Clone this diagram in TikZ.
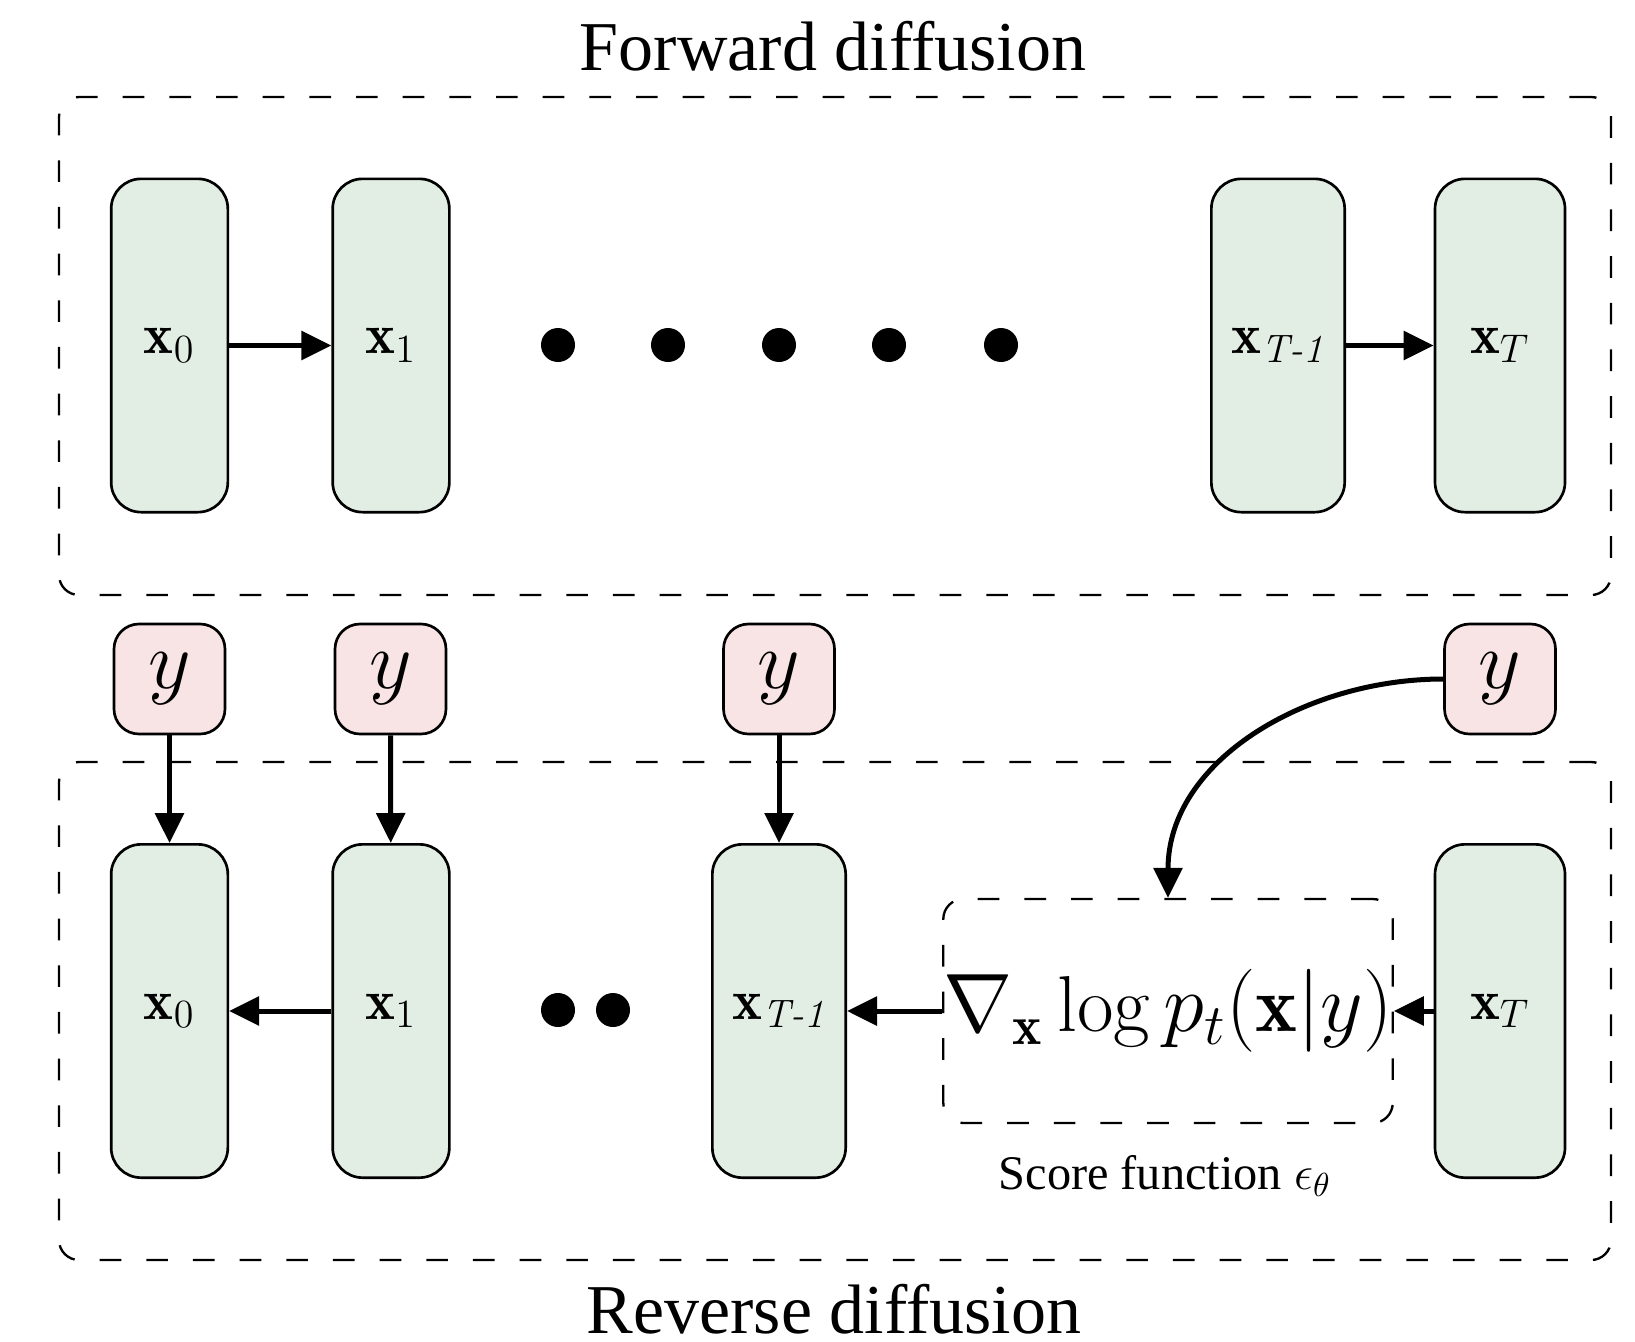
\documentclass[tikz,border=0pt]{standalone}
\usepackage{amsmath}
\usepackage{fontspec}
\newfontfamily\titlefont{Liberation Serif}
\usetikzlibrary{arrows.meta}
\definecolor{statefill}{RGB}{226,238,228}
\definecolor{condfill}{RGB}{248,228,228}

\begin{document}
\begin{tikzpicture}[
    x=0.3pt, y=-0.3pt,
    every node/.style={align=center, inner sep=0pt},
    state box/.style={draw, line width=0.8pt, fill=statefill, rounded corners=9pt,
        minimum width=35pt, minimum height=100pt, font=\fontsize{17}{20}\selectfont},
    wide box/.style={state box, minimum width=40pt},
    cond box/.style={draw, line width=0.8pt, fill=condfill, rounded corners=7.5pt,
        minimum width=33.3pt, minimum height=33pt, font=\fontsize{24}{28}\selectfont},
    group box/.style={draw, line width=0.7pt, dash pattern=on 6.5pt off 7.5pt,
        rounded corners=6pt},
    big dot/.style={circle, fill=black, minimum size=10.2pt},
    plain arrow/.style={draw, line width=1.5pt, -{Triangle[length=9pt,width=8.5pt]}},
    curved arrow/.style={plain arrow},
    ]
\useasboundingbox (0,0) rectangle (1635,1341);
% forward diffusion
\node[group box, minimum width=465.6pt, minimum height=149.4pt] (fwd) at (835,346) {};
\node[anchor=base, font=\titlefont\fontsize{21}{25}\selectfont] (fwdtitle) at (833,71) {Forward diffusion};
\node[state box] (f0) at (169.5,345.5) {$\mathbf{x}_0$};
\node[state box] (f1) at (391,345.5) {$\mathbf{x}_1$};
\node[wide box] (fTm) at (1278,345.5) {$\mathbf{x}_{\textit{T-1}}$};
\node[state box, minimum width=39pt] (fT) at (1500,345.5) {$\mathbf{x}_T$};
\node[big dot] (fdot1) at (558,345) {};
\node[big dot] (fdot2) at (668,345) {};
\node[big dot] (fdot3) at (779,345) {};
\node[big dot] (fdot4) at (889,345) {};
\node[big dot] (fdot5) at (1001,345) {};
\draw[plain arrow] (f0) -- (f1);
\draw[plain arrow] (fTm) -- (fT);
% conditions
\node[cond box] (y0) at (169.5,679) {$y$};
\node[cond box] (y1) at (390.5,679) {$y$};
\node[cond box] (yTm) at (779,679) {$y$};
\node[cond box] (yT) at (1500,679) {$y$};
% reverse diffusion
\node[group box, minimum width=465.6pt, minimum height=149.4pt] (rev) at (835,1011) {};
\node[anchor=base, font=\titlefont\fontsize{21}{25}\selectfont] (revtitle) at (834,1333) {Reverse diffusion};
\node[state box] (r0) at (169.5,1011) {$\mathbf{x}_0$};
\node[state box] (r1) at (391,1011) {$\mathbf{x}_1$};
\node[wide box] (rTm) at (779,1011) {$\mathbf{x}_{\textit{T-1}}$};
\node[state box, minimum width=39pt] (rT) at (1500,1011) {$\mathbf{x}_T$};
\node[big dot] (rdot1) at (558,1010) {};
\node[big dot] (rdot2) at (613,1010) {};
\node[group box, minimum width=133.2pt, minimum height=67.2pt, font=\fontsize{23.8}{28}\selectfont] (score) at (1168,1011)
    {$\nabla_{\mathbf{x}}\log p_t(\mathbf{x}|y)$};
\node[anchor=base, font=\titlefont\fontsize{14.5}{17}\selectfont] (scorelabel) at (1165,1189) {Score function $\epsilon_\theta$};
\draw[plain arrow] (y0) -- (r0);
\draw[plain arrow] (y1) -- (r1);
\draw[plain arrow] (yTm) -- (rTm);
\draw[curved arrow] (yT.west) to[out=180, in=90] (score.north);
\draw[plain arrow] (r1) -- (r0);
\draw[plain arrow] (score) -- (rTm);
\draw[plain arrow] (rT) -- (score);
\end{tikzpicture}
\end{document}
